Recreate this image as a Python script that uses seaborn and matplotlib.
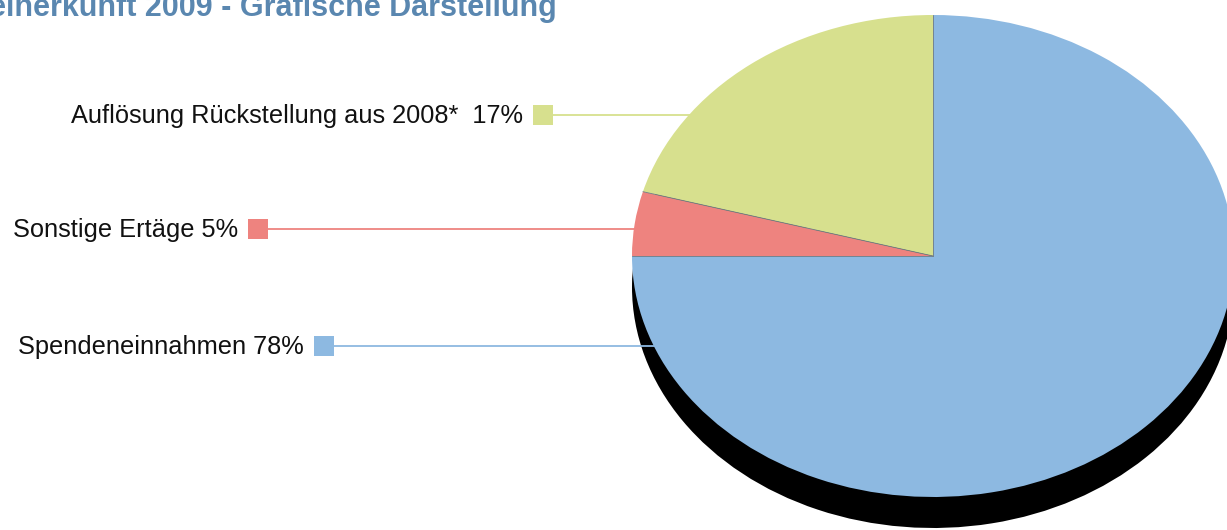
import matplotlib
matplotlib.use("Agg")
import matplotlib.pyplot as plt
import numpy as np
import seaborn as sns

# Herkunft der Mittel 2009
categories = ["Spendeneinnahmen", "Sonstige Ertäge", "Auflösung Rückstellung aus 2008*"]
label_pct = ["78%", "5%", "17%"]
# slice sizes as drawn in the picture (percent of full circle)
slice_sizes = [75.0, 4.3, 20.7]
colors = ["#8DB9E1", "#EE837F", "#D7E08E"]
title = "Mittelherkunft 2009 - Grafische Darstellung"

sns.set_theme(style="white")
plt.rcParams["font.family"] = ["Liberation Sans", "DejaVu Sans"]

W, H = 1227, 530
fig = plt.figure(figsize=(W / 100, H / 100), dpi=100)

# ellipse geometry in pixels (from top left)
cx, cy, rx, ry = 933, 256, 301, 241
depth = 31
XL, YL = (-1.1, 1.1), (-1.25, 1.1)


def pie_axes(z):
    # one data unit = rx px in x, ry px in y
    left = (cx + XL[0] * rx) / W
    width = (XL[1] - XL[0]) * rx / W
    bottom = ((H - cy) + YL[0] * ry) / H
    height = (YL[1] - YL[0]) * ry / H
    return fig.add_axes([left, bottom, width, height], zorder=z)


def finish(a):
    a.set_aspect("auto")
    a.set_xlim(*XL)
    a.set_ylim(*YL)
    a.axis("off")
    a.patch.set_alpha(0)


# shadow (black extrusion under the pie)
ax_sh = pie_axes(0)
ax_sh.pie(slice_sizes, colors=["black"] * 3, startangle=90, counterclock=False,
          center=(0, -depth / ry), radius=1.0, frame=True,
          wedgeprops=dict(linewidth=0))
finish(ax_sh)

# label layer
ax = fig.add_axes([0, 0, 1, 1], zorder=1)
ax.set_xlim(0, W)
ax.set_ylim(H, 0)
ax.axis("off")
ax.patch.set_alpha(0)

marker_x = [324, 258, 543]
label_y = [346, 229, 115]
for name, pct, col, mx, ly in zip(categories, label_pct, colors, marker_x, label_y):
    sep = "  " if "2008" in name else " "
    ax.plot([mx, cx - 40], [ly, ly], color=col, lw=1.3, solid_capstyle="butt")
    ax.scatter([mx], [ly], marker="s", s=190, color=col, linewidths=0)
    ax.text(mx - 20, ly + 1, name + sep + pct, ha="right", va="center",
            fontsize=18.3, color="#111111")

ax.text(557, 16, title, ha="right", va="baseline", fontsize=22,
        fontweight="bold", color="#5A87B0")

# pie on top
ax_p = pie_axes(2)
ax_p.pie(slice_sizes, colors=colors, startangle=90, counterclock=False,
         center=(0, 0), radius=1.0, frame=True,
         wedgeprops=dict(linewidth=0))
# thin separators between the slices
ang = np.deg2rad(90 - 3.6 * np.concatenate([[0], np.cumsum(slice_sizes)[:-1]]))
for a in ang:
    ax_p.plot([0, np.cos(a)], [0, np.sin(a)], color="#6f7b84", lw=0.6)
finish(ax_p)

fig.savefig("out.png", dpi=100)
